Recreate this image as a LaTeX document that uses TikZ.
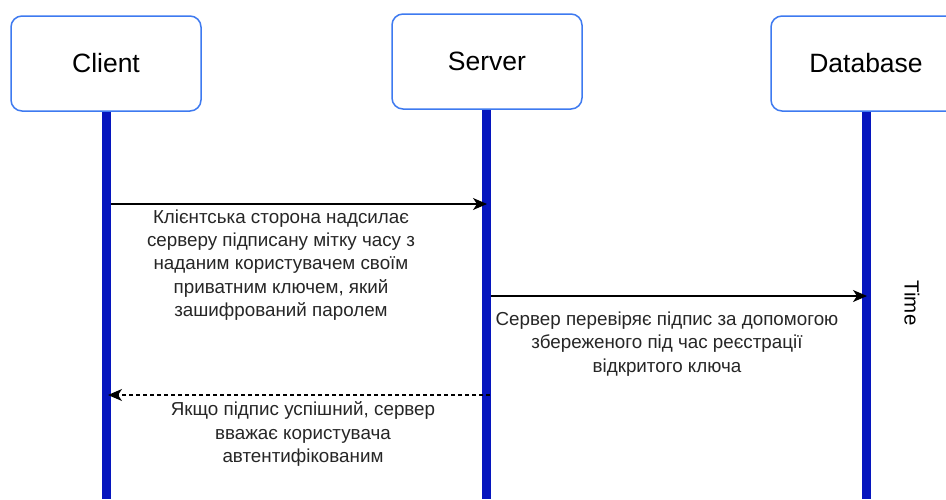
\documentclass[tikz,border=0pt]{standalone}
\usepackage{fontspec}
\setmainfont{Liberation Sans}
\usetikzlibrary{arrows.meta}
\definecolor{boxline}{RGB}{62,122,240}
\definecolor{lifeblue}{RGB}{6,22,190}
\begin{document}
\begin{tikzpicture}[x=1pt,y=-1pt,
  actor/.style={draw=boxline,line width=1.5pt,rounded corners=11pt,fill=white,
    minimum width=190pt,minimum height=95pt,font=\fontsize{26.5}{30}\selectfont},
  lifeline/.style={draw=lifeblue,line width=9pt},
  msg/.style={draw=black,line width=1.2pt,-{Stealth[length=14pt,width=12pt,inset=4pt]}},
  lbl/.style={align=center,font=\fontsize{18.8}{23.4}\selectfont,text=black!85}]
\useasboundingbox[fill=white] (0,0) rectangle (946,499);
\node[actor] (client) at (106,63.5) {Client};
\node[actor] (server) at (487,61.5) {Server};
\node[actor] (db) at (866,63.5) {Database};
\coordinate (cend) at (106,499);
\coordinate (send) at (486,499);
\coordinate (dend) at (866,499);
\draw[lifeline] (client.south) -- (cend);
\draw[lifeline] (server.south -| send) -- (send);
\draw[lifeline] (db.south) -- (dend);
\coordinate (m1a) at (111,204);
\coordinate (m1b) at (487,204);
\coordinate (m2a) at (491,296);
\coordinate (m2b) at (867,296);
\coordinate (m3a) at (490,395);
\coordinate (m3b) at (108,395);
\draw[msg] (m1a) -- (m1b);
\draw[msg] (m2a) -- (m2b);
\draw[msg,dashed,dash pattern=on 4pt off 3pt] (m3a) -- (m3b);
\node[lbl] (l1) at (281,265) {Клієнтська сторона надсилає\\серверу підписану мітку часу з\\наданим користувачем своїм\\приватним ключем, який\\зашифрований паролем};
\node[lbl] (l2) at (667,344) {Сервер перевіряє підпис за допомогою\\збереженого під час реєстрації\\відкритого ключа};
\node[lbl] (l3) at (303,434) {Якщо підпис успішний, сервер\\вважає користувача\\автентифікованим};
\node[rotate=-90,font=\fontsize{20.5}{24}\selectfont] (time) at (912,303) {Time};
\end{tikzpicture}
\end{document}
